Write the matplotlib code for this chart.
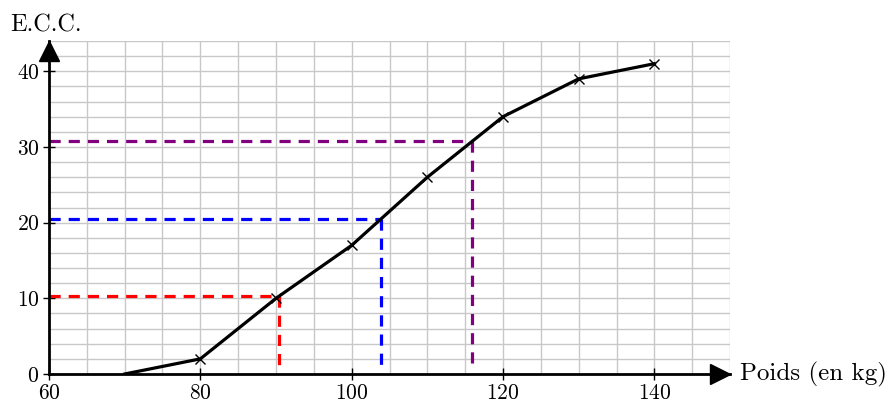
import matplotlib
matplotlib.use("Agg")
import matplotlib.pyplot as plt
import matplotlib.transforms as mtransforms
import numpy as np

plt.rcParams['font.family'] = ['cmr10', 'DejaVu Serif']
plt.rcParams['axes.formatter.use_mathtext'] = True

# polygone des effectifs cumules croissants
poids = [70, 80, 90, 100, 110, 120, 130, 140]
ecc = [0, 2, 10, 17, 26, 34, 39, 41]

# quartiles
q_y = [10.25, 20.5, 30.75]
q_x = [90.36, 103.9, 115.9]
q_col = ['#ff0000', '#0000ff', '#800080']

xticks = [60, 80, 100, 120, 140]
yticks = [0, 10, 20, 30, 40]

fig = plt.figure(figsize=(8.92, 4.05), dpi=100)
ax = fig.add_axes([49/892, 31/405, (730-49)/892, (374-41)/405])
ax.set_xlim(60, 150)
ax.set_ylim(0, 44)

# quadrillage
for gx in np.arange(60, 151, 5):
    ax.axvline(gx, color='#c8c8c8', lw=1, zorder=0)
for gy in np.arange(0, 45, 2):
    ax.axhline(gy, color='#c8c8c8', lw=1, zorder=0)

# pointilles des quartiles
for xq, yq, c in zip(q_x, q_y, q_col):
    ax.plot([60, xq], [yq, yq], color=c, lw=2.3, ls=(0, (3.5, 2.5)), zorder=2)
    ax.plot([xq, xq], [yq, 0.8], color=c, lw=2.3, ls=(0, (3.5, 2.5)), zorder=2)

ax.plot(poids, ecc, color='black', lw=2.3, zorder=3)
ax.plot(poids[1:], ecc[1:], 'x', color='black', ms=7, mew=1, zorder=4)

for s in ['top', 'right']:
    ax.spines[s].set_visible(False)
for s in ['left', 'bottom']:
    ax.spines[s].set_linewidth(2)
    ax.spines[s].set_zorder(5)

# fleches des axes (pointe au bout du quadrillage)
tr_x = mtransforms.offset_copy(ax.transAxes, fig=fig, x=-7, y=0, units='points')
tr_y = mtransforms.offset_copy(ax.transAxes, fig=fig, x=0, y=-7, units='points')
ax.plot(1, 0, '>', color='black', ms=14, transform=tr_x, clip_on=False, zorder=6)
ax.plot(0, 1, '^', color='black', ms=14, transform=tr_y, clip_on=False, zorder=6)

ax.set_xticks(xticks)
ax.set_yticks(yticks)
ax.tick_params(direction='inout', length=8, width=1, labelsize=15.5, pad=3)

ax.text(-0.057, 1.015, 'E.C.C.', transform=ax.transAxes, fontsize=17.5, ha='left', va='bottom')
ax.text(1.014, 0.0, 'Poids (en kg)', transform=ax.transAxes, fontsize=18, ha='left', va='center')

fig.savefig('out.png', dpi=100)
